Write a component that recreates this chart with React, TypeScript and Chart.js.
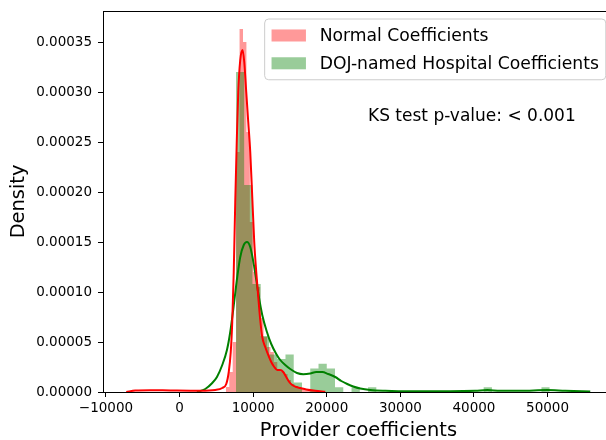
import React, { useEffect, useRef } from 'react';
import { Chart, registerables } from 'chart.js';

Chart.register(...registerables);

// ---- data ----
const xTicks = [-10000, 0, 10000, 20000, 30000, 40000, 50000];
const yTicks = [0, 0.00005, 0.0001, 0.00015, 0.0002, 0.00025, 0.0003, 0.00035];

const seriesNames = ['Normal Coefficients', 'DOJ-named Hospital Coefficients'];
const ksText = 'KS test p-value: < 0.001';

// Normal coefficients histogram (density)
const redBinStart = 6290;
const redBinWidth = 466;
const redDensity = [
  0.000005, 0.00002, 0.00005, 0.00024, 0.000363, 0.00035, 0.00026, 0.00017,
  0.00012, 0.000105, 0.000074, 0.000055, 0.000045, 0.00004, 0.00003, 0.000022,
  0.00002, 0.000018, 0.000012, 0.000008, 0.000006, 0.000004, 0.000003, 0.000002,
  0.000002, 0.000001, 0.000001,
];

// DOJ-named hospital coefficients histogram (density)
const greenBinStart = 7660;
const greenBinWidth = 1122;
const greenDensity = [
  0.00032, 0.000207, 0.000108, 0.000056, 0.0000376, 0.0000329, 0.0000376, 0.0000094,
  0, 0.0000235, 0.0000282, 0.0000235, 0.0000047, 0, 0.0000047, 0,
  0.0000047, 0, 0, 0, 0, 0, 0, 0,
  0, 0, 0, 0, 0, 0, 0.0000047, 0,
  0, 0, 0, 0, 0, 0.0000047,
];

// KDE curves
const redKdeX = [
  -7242, -6019, -3981, -1264, 2813, 4851, 5802, 6345, 6685, 6957, 7160, 7364, 7568,
  7772, 7976, 8247, 8560, 8791, 9062, 9334, 9606, 9878, 10149, 10421, 10693, 10965,
  11236, 11644, 12052, 12459, 12867, 13274, 13682, 14090, 14497, 14905, 15313, 15856,
  16399, 17215, 18438, 19796,
];
const redKdeY = [
  0, 0.0000015, 0.0000018, 0.0000015, 0.0000012, 0.000002, 0.000004, 0.000008, 0.00002,
  0.00004, 0.00007, 0.00012, 0.00019, 0.00025, 0.0003, 0.000332, 0.000342, 0.00033,
  0.0003, 0.00027, 0.00024, 0.000195, 0.00015, 0.00012, 0.000095, 0.000072, 0.000055,
  0.000045, 0.000037, 0.00003, 0.000025, 0.000022, 0.000022, 0.00002, 0.000015, 0.00001,
  0.000007, 0.000005, 0.000004, 0.0000025, 0.0000012, 0.0000003,
];

const greenKdeX = [
  2364, 3492, 4443, 5082, 5802, 6440, 6889, 7337, 7840, 8247, 8723, 9158, 9606, 10149,
  10734, 11236, 11875, 12459, 13139, 13682, 14361, 15041, 15951, 16807, 17758, 18573,
  19389, 20204, 21155, 21970, 22785, 23601, 24552, 25910, 27948, 31345, 36780, 40177,
  41807, 43573, 46291, 49959, 52405, 55802,
];
const greenKdeY = [
  0, 0.000003, 0.000009, 0.000015, 0.000027, 0.000042, 0.00006, 0.000085, 0.000115,
  0.000135, 0.000147, 0.00015, 0.000145, 0.000125, 0.000097, 0.000077, 0.00006, 0.000048,
  0.000038, 0.000032, 0.000027, 0.000023, 0.000019, 0.0000178, 0.0000185, 0.00002,
  0.00002, 0.000018, 0.000015, 0.000011, 0.000008, 0.0000055, 0.0000035, 0.000002,
  0.0000012, 0.0000007, 0.0000007, 0.0000012, 0.000002, 0.0000012, 0.0000012, 0.000002,
  0.0000012, 0.0000005,
];

const X_MIN = -10400;
const X_MAX = 59000;
const Y_MIN = 0;
const Y_MAX = 0.000381;

const RED_FILL = 'rgba(255,0,0,0.4)';
const GREEN_FILL = 'rgba(0,128,0,0.4)';
const FONT = "'DejaVu Sans', sans-serif";

function histPoints(start: number, width: number, dens: number[]) {
  const pts = dens.map((d, i) => ({ x: start + i * width, y: d }));
  pts.push({ x: start + dens.length * width, y: 0 });
  return pts;
}

function curvePoints(xs: number[], ys: number[]) {
  return xs.map((x, i) => ({ x, y: ys[i] }));
}

const fmtMinus = (v: number) => (v < 0 ? '\u2212' + String(Math.abs(v)) : String(v));

const decorPlugin = {
  id: 'decor',
  afterDraw(chart: any) {
    const { ctx, chartArea } = chart;
    const { left, right, top, bottom } = chartArea;
    ctx.save();
    // top + right spines
    ctx.strokeStyle = '#000';
    ctx.lineWidth = 1;
    ctx.beginPath();
    ctx.moveTo(left, top + 0.5);
    ctx.lineTo(right, top + 0.5);
    ctx.lineTo(right, bottom);
    ctx.stroke();

    // legend
    const fs = 17.2;
    ctx.font = `${fs}px ${FONT}`;
    const tw = Math.max(...seriesNames.map((s) => ctx.measureText(s).width));
    const pad = 0.4 * fs;
    const handleLen = 2 * fs;
    const handleGap = 0.8 * fs;
    const rowH = 19.2;
    const rowGap = 0.5 * fs;
    const lRight = right - 8;
    const lTop = top + 8;
    const lW = pad + handleLen + handleGap + tw + pad;
    const lH = pad * 2 + rowH * 2 + rowGap;
    const lLeft = lRight - lW;
    const r = 4;
    ctx.beginPath();
    ctx.moveTo(lLeft + r, lTop);
    ctx.lineTo(lRight - r, lTop);
    ctx.quadraticCurveTo(lRight, lTop, lRight, lTop + r);
    ctx.lineTo(lRight, lTop + lH - r);
    ctx.quadraticCurveTo(lRight, lTop + lH, lRight - r, lTop + lH);
    ctx.lineTo(lLeft + r, lTop + lH);
    ctx.quadraticCurveTo(lLeft, lTop + lH, lLeft, lTop + lH - r);
    ctx.lineTo(lLeft, lTop + r);
    ctx.quadraticCurveTo(lLeft, lTop, lLeft + r, lTop);
    ctx.closePath();
    ctx.fillStyle = 'rgba(255,255,255,0.8)';
    ctx.fill();
    ctx.strokeStyle = '#cccccc';
    ctx.stroke();

    const fills = [RED_FILL, GREEN_FILL];
    seriesNames.forEach((name, i) => {
      const cy = lTop + pad + rowH / 2 + i * (rowH + rowGap);
      ctx.fillStyle = fills[i];
      ctx.fillRect(lLeft + pad, cy - 0.35 * fs, handleLen, 0.7 * fs);
      ctx.fillStyle = '#000';
      ctx.textAlign = 'left';
      ctx.textBaseline = 'middle';
      ctx.fillText(name, lLeft + pad + handleLen + handleGap, cy + 1);
    });

    // KS annotation
    ctx.font = `17px ${FONT}`;
    ctx.fillStyle = '#000';
    ctx.textAlign = 'left';
    ctx.textBaseline = 'alphabetic';
    ctx.fillText(ksText, 368, 120.5);

    // axis titles
    ctx.font = `19.4px ${FONT}`;
    ctx.textAlign = 'center';
    ctx.textBaseline = 'alphabetic';
    ctx.fillText('Provider coefficients', (left + right) / 2, 436);

    ctx.save();
    ctx.translate(24, (top + bottom) / 2);
    ctx.rotate(-Math.PI / 2);
    ctx.fillText('Density', 0, 0);
    ctx.restore();

    ctx.restore();
  },
};

export default function App() {
  const ref = useRef<HTMLCanvasElement>(null);

  useEffect(() => {
    const canvas = ref.current;
    if (!canvas) return;
    const chart = new Chart(canvas, {
      type: 'line',
      data: {
        datasets: [
          {
            label: 'Normal KDE',
            data: curvePoints(redKdeX, redKdeY),
            borderColor: '#ff0000',
            borderWidth: 2,
            pointRadius: 0,
            fill: false,
            cubicInterpolationMode: 'monotone',
            order: 0,
          },
          {
            label: 'DOJ KDE',
            data: curvePoints(greenKdeX, greenKdeY),
            borderColor: '#008000',
            borderWidth: 2,
            pointRadius: 0,
            fill: false,
            cubicInterpolationMode: 'monotone',
            order: 0,
          },
          {
            label: seriesNames[1],
            data: histPoints(greenBinStart, greenBinWidth, greenDensity),
            borderColor: 'rgba(0,0,0,0)',
            borderWidth: 0,
            backgroundColor: GREEN_FILL,
            pointRadius: 0,
            stepped: true,
            fill: 'origin',
            order: 1,
          },
          {
            label: seriesNames[0],
            data: histPoints(redBinStart, redBinWidth, redDensity),
            borderColor: 'rgba(0,0,0,0)',
            borderWidth: 0,
            backgroundColor: RED_FILL,
            pointRadius: 0,
            stepped: true,
            fill: 'origin',
            order: 2,
          },
        ],
      },
      options: {
        responsive: false,
        animation: false,
        devicePixelRatio: 1,
        events: [],
        layout: { padding: { left: 0, right: 26.2, top: 11, bottom: 0 } },
        plugins: {
          legend: { display: false },
          tooltip: { enabled: false },
        },
        scales: {
          x: {
            type: 'linear',
            min: X_MIN,
            max: X_MAX,
            afterFit: (s: any) => {
              s.height = 48;
              s.paddingLeft = 0;
              s.paddingRight = 0;
            },
            afterBuildTicks: (s: any) => {
              s.ticks = xTicks.map((v) => ({ value: v }));
            },
            ticks: {
              autoSkip: false,
              maxRotation: 0,
              color: '#000',
              padding: 3,
              font: { family: FONT, size: 13.5 },
              callback: (v: any) => fmtMinus(Number(v)),
            },
            grid: {
              drawOnChartArea: false,
              drawTicks: true,
              tickLength: 5,
              color: '#000',
              tickColor: '#000',
              lineWidth: 1,
            },
            border: { display: true, color: '#000', width: 1 },
          },
          y: {
            type: 'linear',
            min: Y_MIN,
            max: Y_MAX,
            afterFit: (s: any) => {
              s.width = 103;
              s.paddingTop = 0;
              s.paddingBottom = 0;
            },
            afterBuildTicks: (s: any) => {
              s.ticks = yTicks.map((v) => ({ value: v }));
            },
            ticks: {
              autoSkip: false,
              color: '#000',
              padding: 6,
              font: { family: FONT, size: 13.5 },
              callback: (v: any) => Number(v).toFixed(5),
            },
            grid: {
              drawOnChartArea: false,
              drawTicks: true,
              tickLength: 5,
              color: '#000',
              tickColor: '#000',
              lineWidth: 1,
            },
            border: { display: true, color: '#000', width: 1 },
          },
        },
      } as any,
      plugins: [decorPlugin],
    });
    return () => chart.destroy();
  }, []);

  return (
    <div
      style={{
        position: 'fixed',
        left: 0,
        top: 0,
        width: 606,
        height: 440,
        overflow: 'hidden',
        background: '#fff',
      }}
    >
      <canvas ref={ref} width={640} height={440} style={{ display: 'block' }} />
    </div>
  );
}
